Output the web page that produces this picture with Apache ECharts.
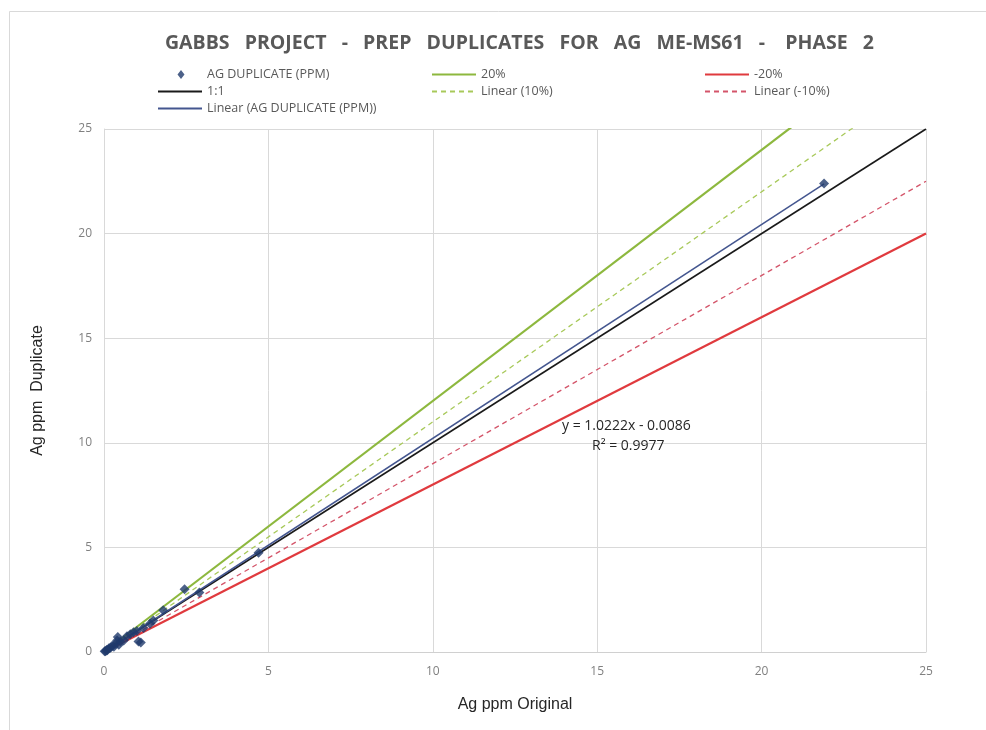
<!DOCTYPE html>
<html>
<head>
<meta charset="utf-8">
<script src="https://cdn.jsdelivr.net/npm/echarts@6/dist/echarts.min.js"></script>
<style>html,body{margin:0;padding:0;background:#fff;}#c{width:986px;height:730px;}</style>
</head>
<body>
<div id="c"></div>
<script>
// ---- data ----
var agOriginal  = [0.02,0.05,0.08,0.10,0.15,0.20,0.25,0.30,0.35,0.40,0.42,0.45,0.50,0.60,0.70,0.80,0.90,1.00,1.05,1.12,1.20,1.40,1.50,1.80,2.45,2.90,4.70,21.90];
var agDuplicate = [0.03,0.04,0.10,0.08,0.18,0.20,0.30,0.25,0.40,0.55,0.72,0.35,0.50,0.55,0.75,0.85,0.95,1.00,0.50,0.45,1.15,1.35,1.50,2.00,3.00,2.85,4.75,22.40];
var refNames  = ['20%', '-20%', '1:1', 'Linear (10%)', 'Linear (-10%)'];
var refSlopes = [1.2, 0.8, 1.0, 1.1, 0.9];
var refRange  = [0, 25];
var trendSlope = 1.0222, trendIntercept = -0.0086, trendR2 = 0.9977;
var xTicks = [0, 5, 10, 15, 20, 25];
var yTicks = [0, 5, 10, 15, 20, 25];

var scatterData = agOriginal.map(function (x, i) { return [x, agDuplicate[i]]; });
var xMin = Math.min.apply(null, agOriginal), xMax = Math.max.apply(null, agOriginal);
var trendData = [[xMin, trendSlope * xMin + trendIntercept], [xMax, trendSlope * xMax + trendIntercept]];

var refStyles = {
  '20%':          {color: '#8DB83E', width: 2.2, type: 'solid'},
  '-20%':         {color: '#E03A3E', width: 2.2, type: 'solid'},
  '1:1':          {color: '#1a1a1a', width: 1.6, type: 'solid'},
  'Linear (10%)': {color: '#A8C95A', width: 1.3, type: [5, 4]},
  'Linear (-10%)':{color: '#D4556A', width: 1.3, type: [5, 4]}
};

var series = refNames.map(function (n, i) {
  var s = refStyles[n];
  return {
    name: n, type: 'line', symbol: 'none', clip: true, z: 2,
    lineStyle: {color: s.color, width: s.width, type: s.type},
    itemStyle: {color: s.color},
    data: refRange.map(function (x) { return [x, refSlopes[i] * x]; })
  };
});
series.push({
  name: 'Linear (AG DUPLICATE (PPM))', type: 'line', symbol: 'none', z: 3,
  lineStyle: {color: '#44568F', width: 1.5}, itemStyle: {color: '#222'},
  data: trendData
});
series.push({
  name: 'AG DUPLICATE (PPM)', type: 'scatter', symbol: 'diamond', symbolSize: 10, z: 4,
  itemStyle: {color: '#1F3A6B'},
  data: scatterData
});

var legendText = {color: '#595959', fontSize: 12.5, fontFamily: 'Open Sans, sans-serif'};
var diamondIcon = 'path://M0,0L0.01,0M23,0L26.5,4.5L23,9L19.5,4.5ZM44,9L43.99,9';
function lineItem(n) { return {name: n, itemStyle: {opacity: 0}}; }
function legendCol(left, names) {
  return {
    left: left, top: 63, orient: 'vertical', itemWidth: 44, itemHeight: 9, itemGap: 4,
    textStyle: legendText, data: names, selectedMode: false
  };
}

var chart = echarts.init(document.getElementById('c'));
chart.setOption({
  backgroundColor: '#fff',
  animation: false,
  title: {
    text: 'GABBS   PROJECT   -   PREP   DUPLICATES   FOR   AG   ME-MS61   -    PHASE   2',
    left: 160, top: 28,
    textStyle: {color: '#595959', fontSize: 19.5, fontWeight: 'bold', fontFamily: 'Open Sans, sans-serif'}
  },
  legend: [
    legendCol(152, [{name: 'AG DUPLICATE (PPM)', icon: diamondIcon}, lineItem('1:1'), lineItem('Linear (AG DUPLICATE (PPM))')]),
    legendCol(426, [lineItem('20%'), lineItem('Linear (10%)')]),
    legendCol(699, [lineItem('-20%'), lineItem('Linear (-10%)')])
  ],
  grid: {left: 104, right: 60, top: 129, bottom: 78, containLabel: false},
  xAxis: {
    type: 'value', min: xTicks[0], max: xTicks[xTicks.length - 1], interval: 5,
    name: 'Ag ppm Original', nameLocation: 'middle', nameGap: 45,
    nameTextStyle: {color: '#262626', fontSize: 16, fontFamily: 'Liberation Sans Narrow, Arial, sans-serif'},
    axisLine: {show: true, lineStyle: {color: '#D0D0D0'}},
    axisTick: {show: false},
    axisLabel: {color: '#808080', fontSize: 12, margin: 14, fontFamily: 'Open Sans, sans-serif'},
    splitLine: {show: true, lineStyle: {color: '#D9D9D9'}}
  },
  yAxis: {
    type: 'value', min: yTicks[0], max: yTicks[yTicks.length - 1], interval: 5,
    name: 'Ag ppm  Duplicate', nameLocation: 'middle', nameGap: 58,
    nameTextStyle: {color: '#262626', fontSize: 16, fontFamily: 'Liberation Sans Narrow, Arial, sans-serif'},
    axisLine: {show: true, lineStyle: {color: '#D9D9D9'}},
    axisTick: {show: false},
    axisLabel: {color: '#808080', fontSize: 12, margin: 12, fontFamily: 'Open Sans, sans-serif'},
    splitLine: {show: true, lineStyle: {color: '#D9D9D9'}}
  },
  graphic: [
    {type: 'rect', left: 7, top: 9, shape: {width: 1000, height: 740}, silent: true, z: -10,
     style: {fill: 'none', stroke: '#D9D9D9', lineWidth: 1}},
    {type: 'text', left: 562, top: 419, z: 10,
     style: {text: 'y = 1.0222x - 0.0086', fill: '#262626', font: '14px "Open Sans", sans-serif'}},
    {type: 'text', left: 592, top: 439, z: 10,
     style: {text: 'R\u00b2 = ' + trendR2, fill: '#262626', font: '14px "Open Sans", sans-serif'}}
  ],
  series: series
});
</script>
</body>
</html>
